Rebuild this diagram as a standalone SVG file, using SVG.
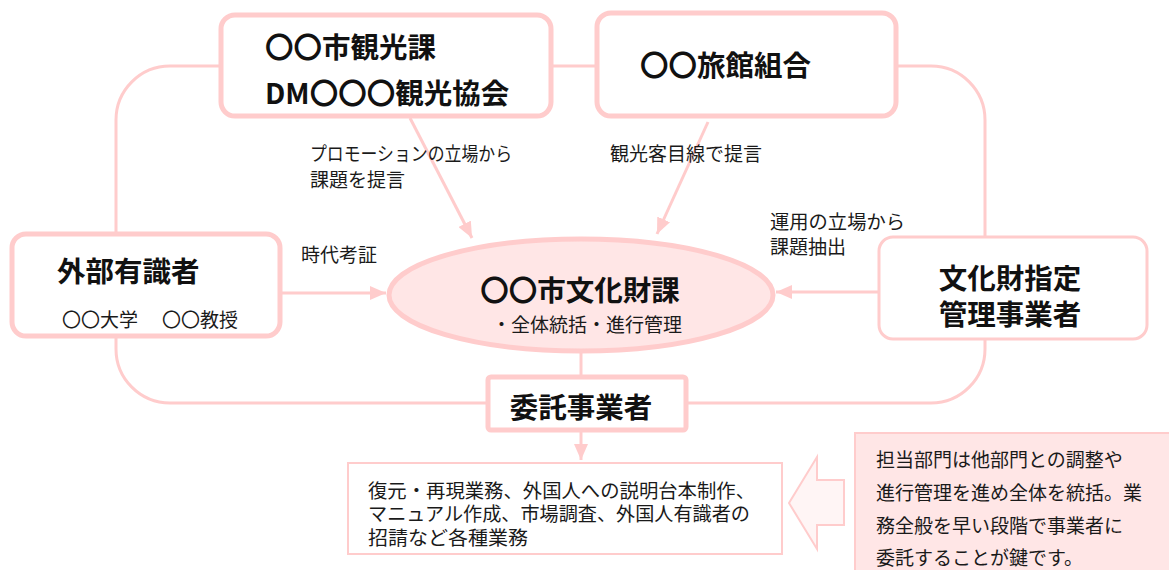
<svg xmlns="http://www.w3.org/2000/svg" width="1169" height="570" viewBox="0 0 1169 570">
<defs>
<style>
.ln{fill:none;stroke:#ffcccc;stroke-width:3}
.box{fill:#fff;stroke:#ffcccc;stroke-width:5}
.h{font-family:"Noto Sans CJK JP","Noto Sans",sans-serif;font-weight:700;fill:#111;font-size:28.5px}
.t{font-family:"Noto Sans CJK JP","Noto Sans",sans-serif;font-weight:400;fill:#1a1a1a;font-size:19px}
</style>
<marker id="ah" markerWidth="16" markerHeight="14" refX="16" refY="7" orient="auto" markerUnits="userSpaceOnUse">
<path d="M0,0 L16,7 L0,14 Z" fill="#ffcccc"/>
</marker>
</defs>
<rect width="1169" height="570" fill="#fff"/>
<g id="connectors">
<rect class="ln" x="116" y="66" width="869" height="337" rx="54"/>
<line class="ln" x1="410" y1="118" x2="472" y2="238" marker-end="url(#ah)"/>
<line class="ln" x1="708" y1="122" x2="657" y2="234" marker-end="url(#ah)"/>
<line class="ln" x1="282" y1="293" x2="386" y2="293" marker-end="url(#ah)"/>
<line class="ln" x1="878" y1="292" x2="776" y2="292" marker-end="url(#ah)"/>
<line class="ln" x1="581" y1="352" x2="581" y2="378"/>
<line class="ln" x1="581" y1="431" x2="581" y2="460" marker-end="url(#ah)"/>
<text class="t" x="310" y="161" textLength="202" lengthAdjust="spacingAndGlyphs">プロモーションの立場から</text>
<text class="t" x="310" y="187" font-size="20">課題を提言</text>
<text class="t" x="610" y="161" font-size="20">観光客目線で提言</text>
<text class="t" x="301" y="262" font-size="20">時代考証</text>
<text class="t" x="770" y="229" textLength="135" lengthAdjust="spacingAndGlyphs">運用の立場から</text>
<text class="t" x="770" y="254" font-size="20">課題抽出</text>
</g>
<g id="node-kanko">
<rect class="box" x="221" y="15" width="330" height="101" rx="14"/>
<text class="h" x="265" y="58">〇〇市観光課</text>
<text class="h" x="265" y="104">DM〇〇〇観光協会</text>
</g>
<g id="node-ryokan">
<rect class="box" x="597" y="13" width="299" height="103" rx="14"/>
<text class="h" x="640" y="76">〇〇旅館組合</text>
</g>
<g id="node-yushikisha">
<rect class="box" x="12" y="234" width="268" height="102" rx="14"/>
<text class="h" x="57" y="282">外部有識者</text>
<text class="t" x="62" y="327" font-size="20">〇〇大学</text>
<text class="t" x="162" y="327" font-size="20">〇〇教授</text>
</g>
<g id="node-bunkazai">
<ellipse cx="581" cy="295" rx="192" ry="56" fill="#ffe6e6" stroke="#ffcccc" stroke-width="5"/>
<text class="h" x="580" y="301" text-anchor="middle" font-size="29">〇〇市文化財課</text>
<text class="t" x="587" y="332" text-anchor="middle">・全体統括・進行管理</text>
</g>
<g id="node-shitei">
<rect x="879" y="237" width="268" height="102" rx="14" fill="#fff" stroke="#ffcccc" stroke-width="3"/>
<text class="h" x="1010" y="289" text-anchor="middle" font-size="27.5">文化財指定</text>
<text class="h" x="1010" y="325" text-anchor="middle" font-size="27.5">管理事業者</text>
</g>
<g id="node-itaku">
<rect class="box" x="488" y="377" width="198" height="53" rx="3"/>
<text class="h" x="581" y="418" text-anchor="middle">委託事業者</text>
</g>
<g id="node-gyomu">
<rect x="348" y="463" width="434" height="91" fill="#fff" stroke="#ffcccc" stroke-width="2"/>
<text class="t" x="368" y="498" font-size="18" textLength="387" lengthAdjust="spacingAndGlyphs">復元・再現業務、外国人への説明台本制作、</text>
<text class="t" x="368" y="521" font-size="18" textLength="382" lengthAdjust="spacingAndGlyphs">マニュアル作成、市場調査、外国人有識者の</text>
<text class="t" x="368" y="545" font-size="18" textLength="160" lengthAdjust="spacingAndGlyphs">招請など各種業務</text>
</g>
<g id="node-arrow">
<path d="M789,503 L817,457 L817,480 L844,480 L844,525 L817,525 L817,549 Z" fill="#fff5f5" stroke="#ffcccc" stroke-width="2"/>
</g>
<g id="node-note">
<rect x="855" y="433" width="320" height="145" fill="#ffe6e6" stroke="#ffcccc" stroke-width="2"/>
<text class="t" x="876" y="467" font-size="20">担当部門は他部門との調整や</text>
<text class="t" x="876" y="500" font-size="20">進行管理を進め全体を統括。業</text>
<text class="t" x="876" y="533" font-size="20">務全般を早い段階で事業者に</text>
<text class="t" x="876" y="565" font-size="20">委託することが鍵です。</text>
</g>
</svg>
